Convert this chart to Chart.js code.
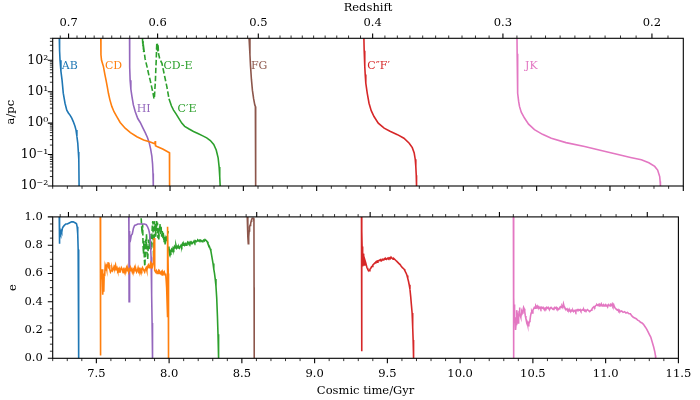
<!DOCTYPE html>
<html><head><meta charset="utf-8">
<script src="https://cdn.jsdelivr.net/npm/chart.js@4.4.1/dist/chart.umd.min.js"></script>
<style>
html,body{margin:0;padding:0;background:#fff;}
#wrap{position:relative;width:700px;height:400px;overflow:hidden;}
canvas{position:absolute;left:0;}
</style></head><body>
<div id="wrap">
<canvas id="cTop" width="700" height="200" style="top:0;width:700px;height:200px"></canvas>
<canvas id="cBot" width="700" height="200" style="top:200px;width:700px;height:200px"></canvas>
</div>
<script>
// ---------- tick labels ----------
const timeMajors = [7.5, 8.0, 8.5, 9.0, 9.5, 10.0, 10.5, 11.0, 11.5];
const timeLabels = ['7.5','8.0','8.5','9.0','9.5','10.0','10.5','11.0','11.5'];
const zMajors = [0.7, 0.6, 0.5, 0.4, 0.3, 0.2];
const zLabels = ['0.7','0.6','0.5','0.4','0.3','0.2'];
const sepMajors = [0.01, 0.1, 1, 10, 100];
const sepLabels = ['10\u207B\u00B2','10\u207B\u00B9','10\u2070','10\u00B9','10\u00B2'];
const eMajors = [0, 0.2, 0.4, 0.6, 0.8, 1.0];
const eLabels = ['0.0','0.2','0.4','0.6','0.8','1.0'];

// ---------- series labels ----------
const seriesNames = ['AB','CD','CD-E','C\u2032E','HI','FG','C\u2033F\u2032','JK'];
const nameTime = [7.262, 7.556, 7.955, 8.051, 7.773, 8.552, 9.345, 10.421];
const nameSep = [63, 63, 63, 2.8, 2.8, 63, 63, 63];

// ---------- separation a/pc [time, a] ----------
const abSep = [[7.245,500],[7.247,200],[7.250,100],[7.256,45],[7.264,23],[7.272,9],[7.284,4.3],[7.296,2.6],[7.307,2.1],[7.318,1.8],[7.330,1.45],[7.341,1.1],[7.352,0.8],[7.359,0.6],[7.365,0.38],[7.371,0.23],[7.375,0.12],[7.378,0.07],[7.380,0.01]];
const cdSep = [[7.528,500],[7.529,150],[7.533,100],[7.546,63],[7.556,35],[7.564,23],[7.572,14.5],[7.580,8.9],[7.590,5.5],[7.603,3.4],[7.618,2.3],[7.637,1.6],[7.660,1.05],[7.694,0.69],[7.730,0.5],[7.774,0.37],[7.820,0.29],[7.865,0.25],[7.897,0.22],[7.899,0.27],[7.901,0.19],[7.911,0.18],[7.950,0.15],[7.990,0.118],[7.996,0.115],[7.997,0.01]];
const hiSep = [[7.724,500],[7.725,60],[7.728,23],[7.733,12],[7.740,7.2],[7.750,3.8],[7.763,2.3],[7.780,1.4],[7.797,1.05],[7.814,0.72],[7.831,0.5],[7.846,0.35],[7.858,0.24],[7.868,0.15],[7.876,0.09],[7.881,0.05],[7.884,0.025],[7.886,0.01]];
const cdeSep = [[7.812,500],[7.815,280],[7.817,400],[7.819,180],[7.822,220],[7.830,112],[7.843,63],[7.855,35],[7.865,23],[7.875,14],[7.884,9],[7.890,6.3],[7.893,5.9],[7.897,12.6],[7.900,20],[7.903,50],[7.906,100],[7.908,220],[7.910,350],[7.912,200],[7.914,350],[7.916,180],[7.918,320],[7.922,160],[7.930,110],[7.945,80],[7.961,35],[7.979,14],[7.993,6]];
const ceSep = [[7.993,6],[8.000,4.8],[8.010,3.5],[8.024,2.6],[8.040,2.0],[8.060,1.41],[8.080,1.0],[8.100,0.79],[8.130,0.65],[8.160,0.54],[8.190,0.47],[8.220,0.4],[8.250,0.34],[8.275,0.28],[8.298,0.21],[8.315,0.14],[8.328,0.079],[8.335,0.04],[8.339,0.02],[8.342,0.01]];
const fgSep = [[8.539,500],[8.545,150],[8.549,65],[8.555,25],[8.562,11],[8.570,6],[8.578,3.8],[8.582,3.4],[8.583,1.5],[8.584,0.1],[8.585,0.01]];
const cfSep = [[9.322,500],[9.324,200],[9.328,63],[9.331,35],[9.335,18.6],[9.345,8.9],[9.357,4.3],[9.372,2.5],[9.391,1.62],[9.420,1.0],[9.460,0.69],[9.500,0.55],[9.551,0.43],[9.595,0.33],[9.631,0.23],[9.652,0.166],[9.665,0.112],[9.672,0.071],[9.676,0.042],[9.679,0.022],[9.681,0.01]];
const jkSep = [[10.366,500],[10.367,160],[10.369,40],[10.372,8.9],[10.377,5],[10.383,3.4],[10.395,2.24],[10.417,1.45],[10.445,0.93],[10.485,0.62],[10.540,0.44],[10.600,0.33],[10.700,0.24],[10.827,0.18],[10.940,0.135],[11.055,0.1],[11.140,0.081],[11.214,0.068],[11.265,0.055],[11.305,0.042],[11.325,0.032],[11.339,0.02],[11.342,0.014],[11.344,0.01]];

// ---------- eccentricity [time, e] ----------
const abEcc = [[7.245,1.0],[7.2455,0.81],[7.247,0.86],[7.249,0.84],[7.252,0.89],[7.255,0.88],[7.258,0.90],[7.262,0.89],[7.267,0.92],[7.272,0.93],[7.280,0.94],[7.290,0.95],[7.300,0.95],[7.310,0.955],[7.320,0.96],[7.330,0.965],[7.341,0.965],[7.350,0.96],[7.359,0.955],[7.364,0.95],[7.368,0.93],[7.372,0.88],[7.375,0.77],[7.377,0.6],[7.378,0.45],[7.379,0.25],[7.380,0.0]];
const cdEcc = [[7.527,1.0],[7.528,0.02],[7.530,0.55],[7.533,0.62],[7.536,0.58],[7.539,0.63],[7.542,0.50],[7.545,0.45],[7.548,0.52],[7.551,0.47],[7.554,0.60],[7.557,0.58],[7.560,0.64],[7.563,0.62],[7.567,0.65],[7.571,0.63],[7.575,0.66],[7.580,0.68],[7.584,0.65],[7.588,0.66],[7.592,0.63],[7.597,0.61],[7.602,0.62],[7.607,0.64],[7.612,0.62],[7.617,0.63],[7.622,0.65],[7.627,0.64],[7.632,0.66],[7.637,0.63],[7.642,0.64],[7.647,0.62],[7.652,0.63],[7.657,0.61],[7.662,0.63],[7.667,0.62],[7.672,0.64],[7.677,0.63],[7.682,0.62],[7.687,0.63],[7.692,0.61],[7.697,0.63],[7.702,0.62],[7.707,0.64],[7.712,0.62],[7.717,0.63],[7.722,0.61],[7.727,0.63],[7.732,0.62],[7.737,0.64],[7.742,0.63],[7.747,0.61],[7.752,0.63],[7.757,0.62],[7.762,0.64],[7.767,0.62],[7.772,0.63],[7.777,0.61],[7.782,0.62],[7.787,0.64],[7.792,0.62],[7.797,0.63],[7.802,0.61],[7.807,0.63],[7.812,0.62],[7.817,0.64],[7.822,0.63],[7.827,0.62],[7.832,0.61],[7.837,0.63],[7.842,0.64],[7.847,0.62],[7.852,0.65],[7.857,0.66],[7.862,0.64],[7.867,0.65],[7.872,0.67],[7.877,0.64],[7.882,0.66],[7.886,0.65],[7.890,0.67],[7.894,0.72],[7.897,0.85],[7.899,0.83],[7.901,0.70],[7.903,0.62],[7.907,0.61],[7.912,0.62],[7.917,0.60],[7.922,0.61],[7.927,0.62],[7.932,0.60],[7.937,0.61],[7.942,0.60],[7.947,0.61],[7.952,0.59],[7.957,0.61],[7.962,0.60],[7.967,0.61],[7.972,0.59],[7.976,0.60],[7.980,0.55],[7.983,0.50],[7.986,0.40],[7.988,0.29],[7.991,0.93],[7.994,0.60],[7.996,0.0]];
const hiEcc = [[7.723,1.0],[7.724,0.85],[7.725,0.40],[7.726,0.84],[7.728,0.90],[7.731,0.86],[7.735,0.84],[7.740,0.87],[7.747,0.88],[7.755,0.92],[7.763,0.94],[7.775,0.945],[7.785,0.95],[7.800,0.95],[7.815,0.95],[7.830,0.95],[7.843,0.945],[7.852,0.93],[7.860,0.91],[7.866,0.88],[7.872,0.81],[7.876,0.72],[7.879,0.59],[7.881,0.45],[7.883,0.25],[7.886,0.0]];
const cdeEcc = [[7.808,0.99],[7.812,0.92],[7.815,0.88],[7.818,0.95],[7.821,0.80],[7.824,0.74],[7.827,0.83],[7.830,0.70],[7.833,0.65],[7.836,0.72],[7.839,0.84],[7.842,0.79],[7.845,0.88],[7.848,0.75],[7.853,0.70],[7.857,0.80],[7.861,0.84],[7.865,0.77],[7.869,0.88],[7.873,0.80],[7.877,0.77],[7.881,0.86],[7.885,0.94],[7.888,0.97],[7.891,0.82],[7.894,0.69],[7.897,0.85],[7.899,0.97],[7.902,0.90],[7.905,0.95],[7.908,0.86],[7.911,0.93],[7.914,0.97],[7.917,0.90],[7.920,0.96],[7.923,0.85],[7.926,0.92],[7.929,0.84],[7.933,0.90],[7.937,0.95],[7.941,0.88],[7.945,0.93],[7.949,0.86],[7.953,0.90],[7.957,0.85],[7.961,0.89],[7.965,0.82],[7.969,0.86],[7.973,0.80],[7.977,0.84],[7.981,0.82],[7.985,0.86],[7.990,0.88],[7.994,0.90]];
const ceEcc = [[7.996,0.79],[7.999,0.76],[8.003,0.74],[8.007,0.76],[8.012,0.75],[8.017,0.77],[8.022,0.76],[8.027,0.78],[8.032,0.77],[8.037,0.79],[8.042,0.78],[8.047,0.80],[8.052,0.78],[8.057,0.79],[8.062,0.78],[8.067,0.79],[8.072,0.78],[8.077,0.79],[8.082,0.80],[8.087,0.79],[8.092,0.81],[8.097,0.80],[8.102,0.81],[8.107,0.80],[8.112,0.81],[8.117,0.80],[8.122,0.81],[8.127,0.82],[8.132,0.81],[8.137,0.82],[8.142,0.81],[8.147,0.82],[8.152,0.81],[8.157,0.82],[8.162,0.815],[8.167,0.82],[8.172,0.83],[8.177,0.82],[8.182,0.83],[8.187,0.825],[8.192,0.83],[8.197,0.835],[8.202,0.83],[8.207,0.835],[8.212,0.83],[8.217,0.835],[8.222,0.83],[8.227,0.825],[8.232,0.83],[8.237,0.835],[8.242,0.83],[8.247,0.84],[8.252,0.835],[8.257,0.83],[8.262,0.825],[8.267,0.81],[8.272,0.80],[8.277,0.79],[8.282,0.775],[8.287,0.76],[8.292,0.73],[8.297,0.70],[8.302,0.67],[8.307,0.63],[8.312,0.60],[8.317,0.56],[8.322,0.51],[8.327,0.43],[8.332,0.30],[8.336,0.17],[8.339,0.06],[8.341,0.0]];
const fgEcc = [[8.537,1.0],[8.540,0.92],[8.542,0.86],[8.544,0.81],[8.547,0.86],[8.550,0.90],[8.553,0.93],[8.556,0.94],[8.560,0.95],[8.564,0.97],[8.567,0.98],[8.571,0.99],[8.576,0.99],[8.580,0.99],[8.583,0.97],[8.584,0.5],[8.585,0.0]];
const cfEcc = [[9.322,1.0],[9.323,0.05],[9.325,0.90],[9.327,0.75],[9.328,0.79],[9.330,0.70],[9.332,0.65],[9.335,0.74],[9.337,0.70],[9.340,0.66],[9.342,0.69],[9.346,0.70],[9.350,0.68],[9.355,0.66],[9.360,0.64],[9.365,0.63],[9.370,0.62],[9.375,0.62],[9.380,0.63],[9.385,0.635],[9.390,0.645],[9.395,0.65],[9.400,0.66],[9.405,0.665],[9.410,0.67],[9.415,0.675],[9.420,0.68],[9.425,0.685],[9.430,0.68],[9.435,0.69],[9.440,0.69],[9.445,0.695],[9.450,0.69],[9.455,0.695],[9.460,0.69],[9.465,0.70],[9.470,0.695],[9.475,0.70],[9.480,0.705],[9.485,0.70],[9.490,0.705],[9.495,0.70],[9.500,0.705],[9.505,0.71],[9.510,0.705],[9.515,0.71],[9.520,0.705],[9.525,0.715],[9.530,0.71],[9.535,0.705],[9.540,0.70],[9.545,0.705],[9.550,0.70],[9.555,0.695],[9.560,0.69],[9.565,0.685],[9.570,0.68],[9.575,0.675],[9.580,0.67],[9.585,0.665],[9.590,0.66],[9.595,0.65],[9.600,0.645],[9.605,0.64],[9.610,0.635],[9.615,0.63],[9.620,0.62],[9.625,0.61],[9.630,0.60],[9.635,0.585],[9.640,0.565],[9.645,0.545],[9.650,0.52],[9.655,0.49],[9.660,0.44],[9.665,0.38],[9.670,0.32],[9.674,0.22],[9.677,0.13],[9.679,0.06],[9.681,0.0]];
const jkEcc = [[10.366,1.0],[10.367,0.0],[10.369,0.43],[10.371,0.30],[10.373,0.38],[10.375,0.25],[10.378,0.29],[10.381,0.20],[10.384,0.24],[10.387,0.30],[10.390,0.34],[10.393,0.31],[10.396,0.27],[10.399,0.25],[10.402,0.28],[10.405,0.33],[10.408,0.36],[10.411,0.33],[10.414,0.30],[10.417,0.29],[10.420,0.31],[10.424,0.33],[10.428,0.32],[10.432,0.34],[10.436,0.36],[10.440,0.35],[10.444,0.33],[10.448,0.30],[10.452,0.28],[10.456,0.27],[10.460,0.26],[10.464,0.24],[10.468,0.23],[10.472,0.24],[10.476,0.26],[10.480,0.27],[10.484,0.30],[10.488,0.32],[10.492,0.33],[10.496,0.32],[10.500,0.34],[10.505,0.35],[10.510,0.36],[10.515,0.355],[10.520,0.37],[10.525,0.36],[10.530,0.37],[10.535,0.36],[10.540,0.365],[10.545,0.355],[10.550,0.36],[10.555,0.35],[10.560,0.36],[10.565,0.355],[10.570,0.36],[10.575,0.35],[10.580,0.345],[10.585,0.355],[10.590,0.35],[10.595,0.36],[10.600,0.355],[10.605,0.36],[10.610,0.35],[10.615,0.345],[10.620,0.355],[10.625,0.36],[10.630,0.355],[10.635,0.35],[10.640,0.345],[10.645,0.355],[10.650,0.36],[10.655,0.355],[10.660,0.36],[10.665,0.35],[10.670,0.355],[10.675,0.345],[10.680,0.35],[10.685,0.36],[10.690,0.365],[10.695,0.36],[10.700,0.37],[10.705,0.36],[10.710,0.385],[10.715,0.365],[10.720,0.355],[10.725,0.35],[10.730,0.345],[10.735,0.35],[10.740,0.34],[10.745,0.345],[10.750,0.335],[10.755,0.34],[10.760,0.33],[10.765,0.34],[10.770,0.335],[10.775,0.34],[10.780,0.33],[10.785,0.335],[10.790,0.34],[10.795,0.33],[10.800,0.34],[10.805,0.345],[10.810,0.34],[10.815,0.345],[10.820,0.34],[10.825,0.345],[10.830,0.335],[10.835,0.34],[10.840,0.345],[10.845,0.34],[10.850,0.345],[10.855,0.335],[10.860,0.34],[10.865,0.335],[10.870,0.34],[10.875,0.345],[10.880,0.34],[10.885,0.335],[10.890,0.33],[10.895,0.335],[10.900,0.34],[10.905,0.345],[10.910,0.355],[10.915,0.36],[10.920,0.365],[10.925,0.36],[10.930,0.37],[10.935,0.375],[10.940,0.38],[10.945,0.375],[10.950,0.38],[10.955,0.37],[10.960,0.38],[10.965,0.375],[10.970,0.385],[10.975,0.37],[10.980,0.375],[10.985,0.38],[10.990,0.37],[10.995,0.375],[11.000,0.38],[11.005,0.37],[11.010,0.375],[11.015,0.37],[11.020,0.38],[11.025,0.375],[11.030,0.37],[11.035,0.38],[11.040,0.375],[11.045,0.385],[11.050,0.37],[11.055,0.38],[11.060,0.365],[11.065,0.355],[11.070,0.35],[11.075,0.345],[11.080,0.34],[11.085,0.345],[11.090,0.335],[11.095,0.34],[11.100,0.33],[11.110,0.335],[11.120,0.325],[11.130,0.33],[11.140,0.32],[11.150,0.325],[11.160,0.315],[11.170,0.315],[11.180,0.30],[11.190,0.29],[11.200,0.285],[11.210,0.28],[11.220,0.27],[11.230,0.265],[11.240,0.255],[11.250,0.25],[11.260,0.24],[11.270,0.225],[11.280,0.21],[11.290,0.19],[11.300,0.17],[11.310,0.15],[11.320,0.115],[11.330,0.08],[11.338,0.045],[11.342,0.02],[11.344,0.0]];

// ---------- styling ----------
const COL = {blue:'#1f77b4', orange:'#ff7f0e', green:'#2ca02c', red:'#d62728', purple:'#9467bd', brown:'#8c564b', pink:'#e377c2'};
const labelColors = [COL.blue, COL.orange, COL.green, COL.green, COL.purple, COL.brown, COL.red, COL.pink];
const T_MIN = 7.2, T_MAX = 11.5;

Chart.defaults.font.family = 'DejaVu Serif';
Chart.defaults.font.size = 11.5;
Chart.defaults.color = '#000';

// cosmic time (Gyr) for a redshift, flat LCDM, used for the secondary axis
function tOfZ(z){
  const H0 = 67.7/977.8, OL = 0.69, Om = 0.31;
  return 2/(3*H0*Math.sqrt(OL))*Math.asinh(Math.sqrt(OL/Om)*Math.pow(1+z,-1.5));
}
function near(a,b){return Math.abs(a-b)<1e-6;}
const timeMinor = []; for(let k=72;k<=115;k++){const v=k/10; if(!timeMajors.some(m=>near(m,v))) timeMinor.push(v);}
const zMinor = []; for(let k=15;k<=80;k++){const z=k/100; if(!zMajors.some(m=>near(m,z))){const t=tOfZ(z); if(t>=T_MIN&&t<=T_MAX) zMinor.push(t);}}
const zMajorT = zMajors.map(tOfZ);
const sepMinor = []; for(let n=-2;n<=2;n++){for(let k=2;k<=9;k++){const v=k*Math.pow(10,n); if(v<=500.0001) sepMinor.push(v);}}
const eMinor = []; for(let k=0;k<=20;k++){const v=k/20; if(!eMajors.some(m=>near(m,v))) eMinor.push(v);}

function pts(arr){return arr.map(p=>({x:p[0],y:p[1]}));}
function ds(arr,color,dashed){
  return {data:pts(arr), borderColor:color, backgroundColor:color, borderWidth:1.6, showLine:true,
    pointRadius:0, pointHoverRadius:0, tension:0, fill:false, borderDash: dashed?[5.5,2.4]:[] , borderCapStyle:'butt'};
}

function decoPlugin(spec){
  return {id:'deco', afterDraw(chart){
    const ctx = chart.ctx, a = chart.chartArea;
    ctx.save();
    ctx.strokeStyle = '#000';
    spec.ticks.forEach(g=>{
      const s = chart.scales[g.scale];
      ctx.lineWidth = g.width;
      ctx.beginPath();
      g.values.forEach(v=>{
        if (v < s.min-1e-9 || v > s.max+1e-9) return;
        const p = s.getPixelForValue(v);
        if (g.side==='bottom'){ctx.moveTo(p,a.bottom);ctx.lineTo(p,a.bottom+g.len);}
        else if (g.side==='top'){ctx.moveTo(p,a.top);ctx.lineTo(p,a.top-g.len);}
        else {ctx.moveTo(a.left,p);ctx.lineTo(a.left-g.len,p);}
      });
      ctx.stroke();
    });
    ctx.lineWidth = 1.1;
    ctx.strokeRect(a.left, a.top, a.right-a.left, a.bottom-a.top);
    if (spec.names){
      ctx.font = '11px "DejaVu Serif"';
      ctx.textBaseline = 'middle'; ctx.textAlign = 'left';
      const xs = chart.scales.x, ys = chart.scales.y;
      seriesNames.forEach((n,i)=>{
        ctx.fillStyle = labelColors[i];
        ctx.fillText(n, xs.getPixelForValue(nameTime[i]), ys.getPixelForValue(nameSep[i]));
      });
    }
    ctx.restore();
  }};
}

const noGrid = {display:false, drawTicks:false};
const noBorder = {display:false};
const baseOpts = {
  responsive:false, animation:false, devicePixelRatio: window.devicePixelRatio||1,
  layout:{padding:{left:0,right:16.7,top:0,bottom:0}},
  plugins:{legend:{display:false}, tooltip:{enabled:false}},
  elements:{point:{radius:0}}
};

// ---------- top panel ----------
new Chart(document.getElementById('cTop'), {
  type:'scatter',
  data:{datasets:[
    ds(abSep,COL.blue), ds(cdSep,COL.orange), ds(hiSep,COL.purple), ds(cdeSep,COL.green,true),
    ds(ceSep,COL.green), ds(fgSep,COL.brown), ds(cfSep,COL.red), ds(jkSep,COL.pink)
  ]},
  options:Object.assign({}, baseOpts, {
    scales:{
      x:{type:'linear', position:'bottom', min:T_MIN, max:T_MAX, bounds:'data', grid:noGrid, border:noBorder,
         ticks:{display:false}, afterFit:s=>{s.height=14;}},
      xTop:{type:'linear', axis:'x', position:'top', min:T_MIN, max:T_MAX, bounds:'data', grid:noGrid, border:noBorder,
         afterBuildTicks:s=>{s.ticks = zMajorT.map(v=>({value:v}));},
         ticks:{autoSkip:false, maxRotation:0, minRotation:0, padding:8, callback:(v,i)=>zLabels[i]},
         title:{display:true, text:'Redshift', padding:{top:1.4,bottom:0}},
         afterFit:s=>{s.height=38.3;}},
      y:{type:'logarithmic', position:'left', min:0.01, max:500, bounds:'data', grid:noGrid, border:noBorder,
         afterBuildTicks:s=>{s.ticks = sepMajors.map(v=>({value:v}));},
         ticks:{autoSkip:false, padding:4.5, font:{size:12.5}, callback:(v,i)=>sepLabels[i]},
         title:{display:true, text:'a/pc', padding:{top:4,bottom:0}},
         afterFit:s=>{s.width=52.7;}}
    }
  }),
  plugins:[decoPlugin({names:true, ticks:[
    {scale:'x', side:'bottom', values:timeMajors, len:4.9, width:1.1},
    {scale:'x', side:'bottom', values:timeMinor, len:2.8, width:0.8},
    {scale:'xTop', side:'top', values:zMajorT, len:4.9, width:1.1},
    {scale:'xTop', side:'top', values:zMinor, len:2.8, width:0.8},
    {scale:'y', side:'left', values:sepMajors, len:4.9, width:1.1},
    {scale:'y', side:'left', values:sepMinor, len:2.8, width:0.8}
  ]})]
});

// ---------- bottom panel ----------
new Chart(document.getElementById('cBot'), {
  type:'scatter',
  data:{datasets:[
    ds(abEcc,COL.blue), ds(cdEcc,COL.orange), ds(hiEcc,COL.purple), ds(cdeEcc,COL.green,true),
    ds(ceEcc,COL.green), ds(fgEcc,COL.brown), ds(cfEcc,COL.red), ds(jkEcc,COL.pink)
  ]},
  options:Object.assign({}, baseOpts, {
    scales:{
      x:{type:'linear', position:'bottom', min:T_MIN, max:T_MAX, bounds:'data', grid:noGrid, border:noBorder,
         afterBuildTicks:s=>{s.ticks = timeMajors.map(v=>({value:v}));},
         ticks:{autoSkip:false, maxRotation:0, minRotation:0, padding:8.8, callback:(v,i)=>timeLabels[i]},
         title:{display:true, text:'Cosmic time/Gyr', padding:{top:0,bottom:2}},
         afterFit:s=>{s.height=41.7;}},
      xTop:{type:'linear', axis:'x', position:'top', min:T_MIN, max:T_MAX, bounds:'data', grid:noGrid, border:noBorder,
         ticks:{display:false}, afterFit:s=>{s.height=10.7;}},
      y:{type:'linear', position:'left', min:0, max:1, bounds:'data', grid:noGrid, border:noBorder,
         afterBuildTicks:s=>{s.ticks = eMajors.map(v=>({value:v}));},
         ticks:{autoSkip:false, padding:10, callback:(v,i)=>eLabels[i]},
         title:{display:true, text:'e', padding:{top:6.5,bottom:0}},
         afterFit:s=>{s.width=52.7;}}
    }
  }),
  plugins:[decoPlugin({names:false, ticks:[
    {scale:'x', side:'bottom', values:timeMajors, len:4.9, width:1.1},
    {scale:'x', side:'bottom', values:timeMinor, len:2.8, width:0.8},
    {scale:'xTop', side:'top', values:zMajorT, len:4.9, width:1.1},
    {scale:'xTop', side:'top', values:zMinor, len:2.8, width:0.8},
    {scale:'y', side:'left', values:eMajors, len:4.9, width:1.1},
    {scale:'y', side:'left', values:eMinor, len:2.8, width:0.8}
  ]})]
});
</script>
</body></html>
